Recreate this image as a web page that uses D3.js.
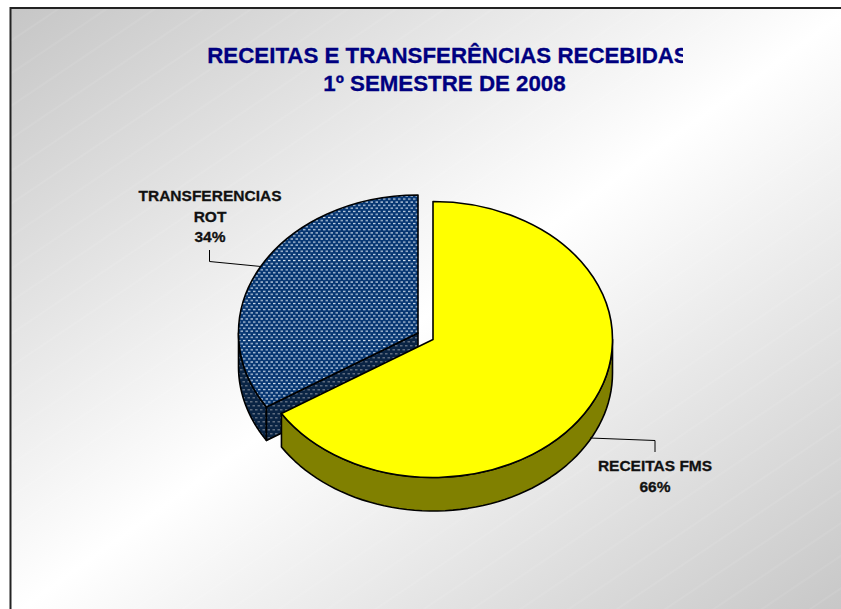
<!DOCTYPE html>
<html>
<head>
<meta charset="utf-8">
<script src="https://d3js.org/d3.v7.min.js"></script>
<style>
  html, body { margin: 0; padding: 0; background: #fff; overflow: hidden; }
  svg { display: block; }
  text { font-family: "Liberation Sans", Arial, sans-serif; font-weight: bold; stroke-width: 0.3; }
  .title { font-size: 22.3px; fill: #000080; stroke: #000080; text-anchor: middle; }
  .label { font-size: 15.5px; fill: #111; stroke: #111; text-anchor: middle; }
  .leader { fill: none; stroke: #000; stroke-width: 1; }
  .edge { stroke: #000; stroke-width: 1.6; stroke-linejoin: round; vector-effect: non-scaling-stroke; }
</style>
</head>
<body>
<svg id="chart" width="841" height="609"></svg>
<script>
// Data
const categories = ['RECEITAS FMS', 'TRANSFERENCIAS ROT'];
const shares = [66, 34];
const titleLines = ['RECEITAS E TRANSFERÊNCIAS RECEBIDAS', '1º SEMESTRE DE 2008'];
const labelLines = [['RECEITAS FMS', '66%'], ['TRANSFERENCIAS', 'ROT', '34%']];

const width = 841, height = 609;
const rx = 179.5, ry = 138, depth = 33.5;

// each slice is pulled away from the middle, so it has its own centre
const layout = [
  {cx: 433, cy: 339.5, top: '#ffff00', side: '#808000'},
  {cx: 418, cy: 333, top: 'url(#dots)', side: 'url(#dotsDark)'}
];

const svg = d3.select('#chart');
const defs = svg.append('defs');

const bg = defs.append('linearGradient').attr('id', 'bg')
    .attr('x1', 0).attr('y1', 0).attr('x2', 1).attr('y2', 1);
bg.append('stop').attr('offset', 0).attr('stop-color', '#c6c6c6');
bg.append('stop').attr('offset', 0.5).attr('stop-color', '#ffffff');
bg.append('stop').attr('offset', 1).attr('stop-color', '#c6c6c6');

// faint diagonal streaks over the gradient
const streaks = defs.append('pattern').attr('id', 'streaks')
    .attr('patternUnits', 'userSpaceOnUse')
    .attr('width', 60).attr('height', 27)
    .attr('patternTransform', 'rotate(-34)');
streaks.append('line').attr('x1', 0).attr('x2', 60).attr('y1', 13).attr('y2', 13)
    .attr('stroke', '#fff').attr('stroke-opacity', 0.13).attr('stroke-width', 1);

function dotPattern(id, base, dot) {
  const p = defs.append('pattern').attr('id', id)
      .attr('patternUnits', 'userSpaceOnUse')
      .attr('width', 5).attr('height', 8);
  p.append('rect').attr('width', 5).attr('height', 8).attr('fill', base);
  p.append('rect').attr('x', 0).attr('y', 1).attr('width', 2.5).attr('height', 1.5).attr('fill', dot);
  p.append('rect').attr('x', 2.5).attr('y', 5).attr('width', 2.5).attr('height', 1.5).attr('fill', dot);
}
dotPattern('dots', '#063672', '#d4e0ee');
dotPattern('dotsDark', '#0a2444', '#5d6b7e');

defs.append('clipPath').attr('id', 'titleClip')
  .append('rect').attr('x', 0).attr('y', 0).attr('width', 683).attr('height', height);

// Background
svg.append('rect').attr('x', 10.5).attr('y', 8)
    .attr('width', width).attr('height', height)
    .attr('fill', 'url(#bg)');
svg.append('rect').attr('x', 11).attr('y', 9)
    .attr('width', width).attr('height', height)
    .attr('fill', 'url(#streaks)');
svg.append('path')
    .attr('d', `M10.5,${height}V8H${width}`)
    .attr('fill', 'none').attr('stroke', '#222').attr('stroke-width', 2);

// Title, the first line runs into the edge of its text box in the original
const title = svg.append('g').attr('clip-path', 'url(#titleClip)');
const titleX = [448, 444.5];
titleLines.forEach((t, i) => {
  title.append('text').attr('class', 'title')
      .attr('x', titleX[i]).attr('y', 63 + i * 28).text(t);
});

// Slices
const pie = d3.pie().sort(null).value(d => d);
const slices = pie(shares).map((d, i) => Object.assign({}, d, layout[i], {name: categories[i]}));
const arc = d3.arc().innerRadius(0).outerRadius(rx);

const px = (s, a) => s.cx + rx * Math.sin(a);
const py = (s, a) => s.cy - ry * Math.cos(a);

// wall below the rim, only the part of the rim that faces the viewer
function wallPath(s) {
  const a0 = Math.max(s.startAngle, Math.PI / 2);
  const a1 = Math.min(s.endAngle, 3 * Math.PI / 2);
  const angles = d3.range(0, 61).map(i => a0 + (a1 - a0) * i / 60);
  const rim = angles.map(a => [px(s, a), py(s, a)]);
  const low = angles.slice().reverse().map(a => [px(s, a), py(s, a) + depth]);
  return d3.line()(rim.concat(low)) + 'Z';
}

function drawSlice(s) {
  const g = svg.append('g').attr('class', 'slice');
  g.append('path').attr('class', 'edge').attr('d', wallPath(s)).attr('fill', s.side);
  if (s.startAngle > 0) {
    // cut face along the first radius, seen from the front
    const x = px(s, s.startAngle), y = py(s, s.startAngle);
    g.append('path').attr('class', 'edge')
        .attr('d', d3.line()([[s.cx, s.cy], [x, y], [x, y + depth], [s.cx, s.cy + depth]]) + 'Z')
        .attr('fill', s.side);
  }
  g.append('path').attr('class', 'edge')
      .attr('transform', `translate(${s.cx},${s.cy}) scale(1,${ry / rx})`)
      .attr('d', arc(s))
      .attr('fill', s.top);
}

// back slice first, the yellow one sits in front of it
drawSlice(slices[1]);
drawSlice(slices[0]);

// Leader lines
svg.append('path').attr('class', 'leader').attr('d', 'M590,438L655,440.5V452');
svg.append('path').attr('class', 'leader').attr('d', 'M261,266.5L209.5,261.5V250');

// Labels
labelLines[0].forEach((t, i) => {
  svg.append('text').attr('class', 'label').attr('x', 655).attr('y', 471 + i * 20.5).text(t);
});
labelLines[1].forEach((t, i) => {
  svg.append('text').attr('class', 'label').attr('x', 210).attr('y', 201 + i * 20.5).text(t);
});
</script>
</body>
</html>
